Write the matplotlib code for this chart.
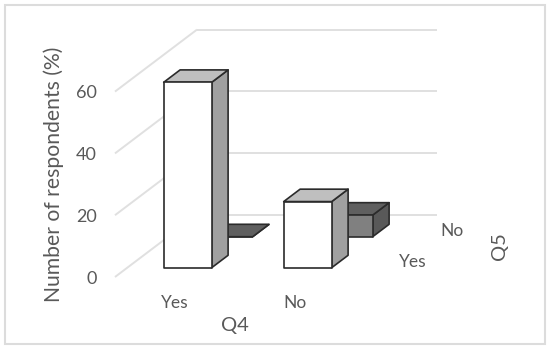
import matplotlib
matplotlib.use("Agg")
from matplotlib import pyplot as plt
from matplotlib.patches import Polygon, Rectangle

plt.rcParams['font.family'] = ['Lato', 'DejaVu Sans']

q4_labels = ["Yes", "No"]
q5_labels = ["Yes", "No"]
q5_yes = [60, 21.4]
q5_no = [0, 7]
ticks = [0, 20, 40, 60]

W, H = 550, 348
# one category = 120 px, one percent = 3.09 px, bar base of front row at px (187.7, 267.7)
XU, YU = 120.0, 3.09
X0, Y0 = 187.7, 267.7
# one depth row moves the bar this far on the page (in data units)
DX, DY = 41.0 / XU, 31.0 / YU
BW = 0.4       # bar width, categories
BD = 0.4       # bar depth, rows
TEXT = "#595959"
GRID = "#e0e0e0"
EDGE = "#2b2b2b"


def proj(x, v, d):
    return (x + d * DX, v + d * DY)


fig = plt.figure(figsize=(W / 100, H / 100), dpi=100)
ax = fig.add_axes([0, 0, 1, 1])
ax.set_xlim(-X0 / XU, (W - X0) / XU)
ax.set_ylim(-(H - Y0) / YU, Y0 / YU)
ax.axis("off")


def px(x, y):
    return ((x - X0) / XU, (Y0 - y) / YU)


# outer frame
ax.add_patch(Rectangle(px(4.5, 344), 540.5 / XU, 339.5 / YU, fc="white", ec="#dcdcdc", lw=1.5, zorder=0))

# gridlines: slanted on the left wall, straight on the back wall
fx0, fy0 = -0.606, -9.3 / YU       # front left corner of floor
back_d = 2.0
for t in ticks:
    v = fy0 + t
    xb, vb = fx0 + back_d * DX, v + back_d * DY
    ax.plot([fx0, xb], [v, vb], color=GRID, lw=1.4, zorder=1, solid_capstyle="butt")
    ax.plot([xb, (437 - X0) / XU], [vb, vb], color=GRID, lw=1.4, zorder=1, solid_capstyle="butt")


def bar3d(x, row, val, top_c, front_c, side_c, z):
    x0, x1 = x - BW / 2, x + BW / 2
    d0, d1 = row, row + BD
    front = [proj(x0, 0, d0), proj(x1, 0, d0), proj(x1, val, d0), proj(x0, val, d0)]
    side = [proj(x1, 0, d0), proj(x1, 0, d1), proj(x1, val, d1), proj(x1, val, d0)]
    top = [proj(x0, val, d0), proj(x1, val, d0), proj(x1, val, d1), proj(x0, val, d1)]
    for pts, c in ((side, side_c), (top, top_c), (front, front_c)):
        ax.add_patch(Polygon(pts, closed=True, fc=c, ec=EDGE, lw=1.2, joinstyle="round", zorder=z))


# back row first so that the front row covers it
for i, v in enumerate(q5_no):
    bar3d(i, 1, v, "#5f5f5f", "#808080", "#595959", 3 + i)
for i, v in enumerate(q5_yes):
    bar3d(i, 0, v, "#bfbfbf", "#ffffff", "#a0a0a0", 6 + i)

# value ticks
for t in ticks:
    x, y = px(97, 0)
    ax.text(x, t + fy0 - 0.6, str(t), ha="right", va="center", fontsize=13, color=TEXT)

# category labels
for (lab, xp) in zip(q4_labels, [175, 295]):
    x, y = px(xp, 303)
    ax.text(x, y, lab, ha="center", va="center", fontsize=12.5, color=TEXT)
for (lab, xp, yp) in zip(q5_labels, [413, 452], [262, 231]):
    x, y = px(xp, yp)
    ax.text(x, y, lab, ha="center", va="center", fontsize=12.5, color=TEXT)

# axis titles
x, y = px(54, 174.5)
ax.text(x, y, "Number of respondents (%)", rotation=90, ha="center", va="center", fontsize=15.2, color=TEXT)
x, y = px(235, 325)
ax.text(x, y, "Q4", ha="center", va="center", fontsize=14.5, color=TEXT)
x, y = px(499, 246)
ax.text(x, y, "Q5", rotation=90, ha="center", va="center", fontsize=14.5, color=TEXT)

fig.savefig("out.png", dpi=100)
